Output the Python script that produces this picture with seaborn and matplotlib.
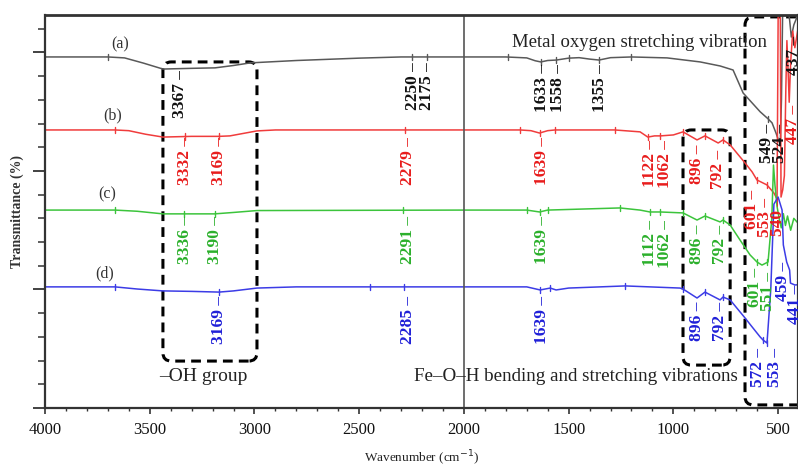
import numpy as np
import pandas as pd
import matplotlib
matplotlib.use("Agg")
import matplotlib.pyplot as plt
import seaborn as sns
from matplotlib.patches import FancyBboxPatch
from matplotlib.ticker import MultipleLocator

# ---------------- data (wavenumber cm-1, transmittance in arbitrary offset units) ----------------
wn_a = [4000, 3700, 3620, 3530, 3437, 3300, 3188, 3100, 3020, 2800, 2500, 2300, 2000, 1800, 1700,
        1660, 1633, 1600, 1558, 1500, 1450, 1400, 1355, 1300, 1200, 1030, 872, 777, 715, 667, 586,
        548, 529, 510, 490, 484, 478, 455, 445, 437, 425, 405]
tr_a = [14.81, 14.81, 14.77, 14.55, 14.30, 14.33, 14.35, 14.45, 14.56, 14.66, 14.76, 14.81, 14.81,
        14.81, 14.77, 14.65, 14.60, 14.66, 14.68, 14.76, 14.78, 14.72, 14.68, 14.78, 14.81, 14.77,
        14.60, 14.43, 14.26, 13.29, 12.50, 12.20, 12.03, 11.60, 11.10, 13.0, 16.9, 17.0, 16.37,
        15.65, 16.16, 16.6]

wn_b = [4000, 3666, 3600, 3520, 3437, 3300, 3169, 3117, 2988, 2900, 2000, 1732, 1680, 1639, 1600,
        1565, 1280, 1159, 1122, 1090, 1062, 1000, 954, 887, 849, 786, 763, 729, 658, 624, 601, 553,
        520, 505, 499, 490, 486, 478, 470, 463, 458, 452, 447, 440, 430, 420, 405]
tr_b = [11.73, 11.73, 11.70, 11.55, 11.43, 11.46, 11.46, 11.48, 11.69, 11.73, 11.73, 11.73, 11.70,
        11.60, 11.70, 11.73, 11.73, 11.65, 11.43, 11.48, 11.48, 11.52, 11.65, 11.31, 11.48, 11.18,
        11.31, 11.10, 10.34, 9.96, 9.62, 9.41, 9.07, 8.82, 17.7, 17.7, 8.9, 9.2, 9.8, 13.5, 15.5,
        14.2, 12.9, 14.6, 15.9, 15.2, 16.0]

wn_c = [4000, 3666, 3560, 3437, 3336, 3190, 3100, 2988, 2000, 1700, 1639, 1600, 1255, 1159, 1112,
        1062, 954, 887, 849, 777, 763, 729, 682, 634, 601, 577, 548, 530, 522, 515, 505, 495, 485,
        475, 465, 455, 440, 425, 405]
tr_c = [8.35, 8.35, 8.30, 8.19, 8.19, 8.19, 8.25, 8.33, 8.35, 8.35, 8.27, 8.35, 8.44, 8.35, 8.27,
        8.27, 8.23, 7.93, 8.10, 7.85, 7.93, 7.72, 7.09, 6.46, 6.16, 6.03, 6.16, 8.0, 10.25, 9.4, 8.5,
        8.0, 7.6, 8.2, 7.7, 8.1, 7.5, 8.0, 7.8]

wn_d = [4000, 3666, 3560, 3437, 3300, 3169, 3100, 2988, 2800, 2000, 1700, 1636, 1588, 1560, 1500,
        1230, 968, 954, 887, 849, 777, 763, 729, 658, 624, 586, 572, 553, 535, 520, 500, 481, 475,
        459, 445, 441, 420, 405]
tr_d = [5.11, 5.11, 5.02, 4.94, 4.92, 4.89, 4.94, 5.06, 5.11, 5.11, 5.11, 4.98, 5.06, 4.98, 5.06,
        5.15, 5.06, 5.02, 4.64, 4.89, 4.56, 4.68, 4.56, 3.80, 3.42, 3.00, 2.87, 2.74, 5.0, 8.6, 8.9,
        8.35, 6.88, 6.16, 5.82, 5.27, 5.19, 5.20]

sample_names = ["(a)", "(b)", "(c)", "(d)"]

# peak labels (text) with label anchor wavenumber and top level
peaks_a = ["3367", "2250", "2175", "1633", "1558", "1355", "549", "524", "437"]
lblx_a = [3355, 2243, 2176, 1627, 1550, 1350, 553, 490, 424]
lbly_a = [14.26, 14.6, 14.6, 14.5, 14.5, 14.5, 12.0, 12.0, 15.7]

peaks_b = ["3332", "3169", "2279", "1639", "1122", "1062", "896", "792", "601", "553", "540", "447"]
lblx_b = [3332, 3169, 2267, 1627, 1111, 1040, 887, 786, 624, 562, 500, 428]
lbly_b = [11.43, 11.43, 11.43, 11.43, 11.31, 11.31, 11.1, 10.9, 9.2, 8.86, 8.9, 12.8]

peaks_c = ["3336", "3190", "2291", "1639", "1112", "1062", "896", "792", "601", "551"]
lblx_c = [3332, 3188, 2267, 1627, 1111, 1040, 887, 777, 610, 548]
lbly_c = [8.10, 8.10, 8.10, 8.10, 7.93, 7.93, 7.72, 7.72, 5.91, 5.74]

peaks_d = ["3169", "2285", "1639", "896", "792", "572", "553", "459", "441"]
lblx_d = [3169, 2267, 1627, 887, 777, 595, 514, 476, 419]
lbly_d = [4.73, 4.73, 4.73, 4.47, 4.47, 2.53, 2.53, 6.16, 5.19]

# small peak-marker ticks on the curves
marks_a = [3700, 2250, 2175, 1790, 1633, 1558, 1500, 1355, 1200, 549]
marks_b = [3666, 3332, 3169, 2279, 1732, 1639, 1565, 1280, 1122, 1062, 954, 849, 763, 601, 553]
marks_c = [3666, 3336, 3190, 2291, 1700, 1639, 1600, 1255, 1112, 1062, 954, 849, 763, 601, 551]
marks_d = [3666, 3169, 2448, 2285, 1639, 1588, 1230, 954, 849, 763, 572, 553]

annot_texts = ["Metal oxygen stretching vibration", "\u2013OH group",
               "Fe\u2013O\u2013H bending and stretching vibrations"]

# ---------------- styling ----------------
sns.set_theme(style="ticks")
plt.rcParams["font.family"] = ["Liberation Serif", "DejaVu Serif"]

line_cols = ["#595959", "#f03c3c", "#3cc43c", "#3c3ce6"]
text_cols = ["#111111", "#e81c1c", "#2bb02b", "#2020d8"]

df = pd.concat([
    pd.DataFrame({"wn": w, "T": t, "sample": n})
    for w, t, n in zip([wn_a, wn_b, wn_c, wn_d], [tr_a, tr_b, tr_c, tr_d], sample_names)
], ignore_index=True)

fig = plt.figure(figsize=(7.98, 4.70), dpi=100)
ax = fig.add_axes([45 / 798, 62 / 470, 753 / 798, 393 / 470])

sns.lineplot(data=df, x="wn", y="T", hue="sample", palette=dict(zip(sample_names, line_cols)),
             sort=False, estimator=None, legend=False, lw=1.1, ax=ax)

ax.set_xlim(4000, 405)
ax.set_ylim(0, 16.58)

# peak-marker ticks
for w_list, t_list, marks, col in zip([wn_a, wn_b, wn_c, wn_d], [tr_a, tr_b, tr_c, tr_d],
                                      [marks_a, marks_b, marks_c, marks_d], line_cols):
    xs = np.array(w_list)[::-1]
    ys = np.array(t_list)[::-1]
    for m in marks:
        yv = np.interp(m, xs, ys)
        ax.plot([m, m], [yv - 0.13, yv + 0.13], color=col, lw=1.0)

# peak labels
for peaks, lx, ly, col in zip([peaks_a, peaks_b, peaks_c, peaks_d], [lblx_a, lblx_b, lblx_c, lblx_d],
                              [lbly_a, lbly_b, lbly_c, lbly_d], text_cols):
    for p, x, y in zip(peaks, lx, ly):
        ax.text(x, y, p + " \u2013", rotation=90, ha="center", va="top", color=col,
                fontsize=12.5, fontweight="bold", clip_on=True)

# curve labels
for name, x, y in zip(sample_names, [3642, 3675, 3704, 3714], [15.32, 12.36, 9.03, 5.70]):
    ax.text(x, y, name, ha="center", va="center", fontsize=11.5, color="#333333")

# vertical separator at 2000
ax.axvline(2000, color="#555555", lw=1.2)

# dashed rounded boxes
aspect = 0.00885
box_kw = dict(fill=False, edgecolor="black", lw=2.2, linestyle=(0, (3.2, 2.0)),
              mutation_aspect=aspect, clip_on=True)
for (x0, x1, y0, y1) in [(2988, 3437, 1.98, 14.6), (729, 954, 1.81, 11.73), (300, 658, 0.13, 16.5)]:
    ax.add_patch(FancyBboxPatch((x0, y0), x1 - x0, y1 - y0,
                                boxstyle="round,pad=0,rounding_size=40", **box_kw))

# annotations
ax.text(1163, 15.44, annot_texts[0], ha="center", va="center", fontsize=13.5, color="#222222")
ax.text(3245, 1.31, annot_texts[1], ha="center", va="center", fontsize=14, color="#222222")
ax.text(1464, 1.31, annot_texts[2], ha="center", va="center", fontsize=13.7, color="#222222")

# axes & ticks
ax.xaxis.set_major_locator(MultipleLocator(500))
ax.xaxis.set_minor_locator(MultipleLocator(100))
ax.yaxis.set_major_locator(MultipleLocator(5))
ax.yaxis.set_minor_locator(MultipleLocator(1))
ax.set_yticklabels([])
ax.tick_params(axis="x", which="major", direction="out", length=4, width=1.2, colors="#333333",
               labelsize=12, pad=6, labelcolor="#111111")
ax.tick_params(axis="x", which="minor", direction="out", length=2.5, width=1.0, colors="#333333")
ax.tick_params(axis="y", which="major", direction="out", length=9, width=1.3, colors="#333333")
ax.tick_params(axis="y", which="minor", direction="out", length=5, width=1.1, colors="#333333")
for s in ["left", "bottom", "top", "right"]:
    ax.spines[s].set_color("#333333")
    ax.spines[s].set_linewidth(1.6)
ax.spines["top"].set_linewidth(2.0)

ax.set_xlabel("Wavenumber (cm$^{-1}$)", fontsize=9.5, color="#222222", labelpad=8)
ax.set_ylabel("Transmittance (%)", fontsize=10, fontweight="bold", color="#333333")
ax.yaxis.set_label_coords(-0.028, 0.5)

fig.savefig("out.png", dpi=100)
